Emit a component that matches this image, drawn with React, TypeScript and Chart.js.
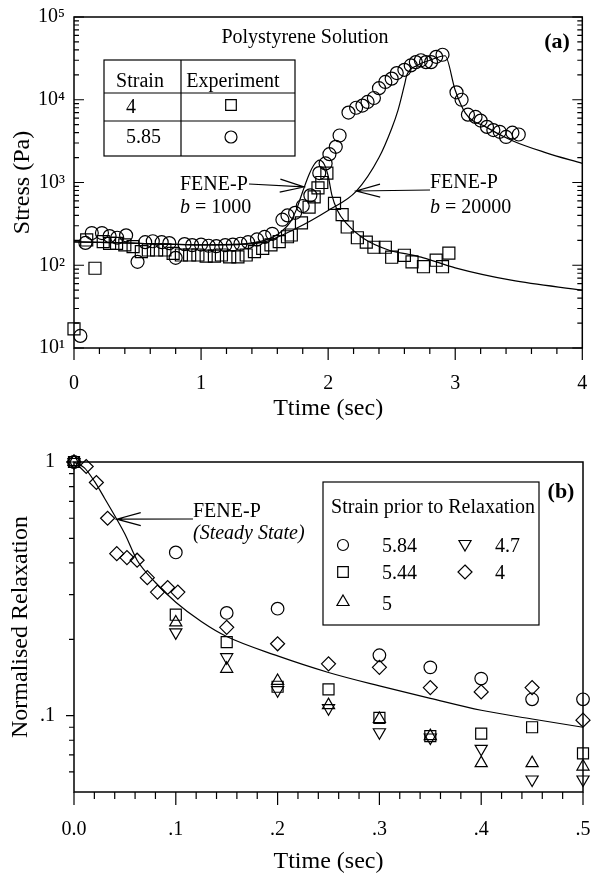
import React, { useEffect, useRef } from 'react';
import { Chart, registerables } from 'chart.js';

Chart.register(...registerables);

const SERIF = '"Liberation Serif", "Times New Roman", serif';

// ---------------- Panel (a): Polystyrene solution, stress vs time ----------------
const A_X_TICKS = [0, 1, 2, 3, 4];
const A_X_LABELS = ['0', '1', '2', '3', '4'];
const A_Y_TICKS = [10, 100, 1000, 10000, 100000];
const A_Y_LABELS = ['10\u00b9', '10\u00b2', '10\u00b3', '10\u2074', '10\u2075'];

// Strain 4 (squares)
const A_SQ_T = [0.0, 0.10, 0.165, 0.23, 0.28, 0.335, 0.40, 0.465, 0.53, 0.585, 0.65, 0.715, 0.78, 0.845, 0.91, 0.975, 1.04, 1.105, 1.16, 1.225, 1.29, 1.355, 1.42, 1.485, 1.55, 1.615, 1.68, 1.71, 1.79, 1.85, 1.89, 1.92, 1.95, 1.99, 2.05, 2.11, 2.15, 2.23, 2.30, 2.36, 2.45, 2.50, 2.60, 2.66, 2.75, 2.85, 2.90, 2.95];
const A_SQ_V = [17, 202, 92, 193, 184, 184, 176, 168, 146, 153, 153, 153, 139, 133, 133, 133, 129, 129, 133, 126, 126, 133, 146, 160, 176, 193, 221, 232, 325, 505, 670, 860, 1000, 1300, 560, 410, 290, 215, 190, 165, 165, 125, 132, 110, 96, 115, 96, 140];

// Strain 5.85 (circles)
const A_CI_T = [0.05, 0.09, 0.14, 0.22, 0.28, 0.34, 0.41, 0.50, 0.56, 0.62, 0.69, 0.75, 0.80, 0.87, 0.93, 1.00, 1.06, 1.12, 1.19, 1.25, 1.31, 1.37, 1.44, 1.50, 1.56, 1.64, 1.68, 1.74, 1.80, 1.86, 1.93, 1.98, 2.01, 2.06, 2.09, 2.16, 2.22, 2.27, 2.31, 2.36, 2.40, 2.45, 2.50, 2.54, 2.60, 2.65, 2.69, 2.73, 2.77, 2.81, 2.85, 2.90, 3.01, 3.05, 3.10, 3.16, 3.20, 3.25, 3.30, 3.35, 3.40, 3.45, 3.50];
const A_CI_V = [14, 186, 245, 245, 225, 215, 230, 110, 190, 195, 190, 185, 123, 180, 175, 178, 172, 170, 175, 178, 182, 190, 205, 220, 240, 355, 400, 430, 520, 700, 1300, 1700, 2200, 2700, 3700, 7000, 8000, 8500, 9400, 10500, 13800, 16400, 18000, 21000, 23000, 26000, 28500, 30000, 28500, 28500, 33000, 35000, 12300, 10000, 6600, 6200, 5600, 4700, 4300, 4100, 3550, 4000, 3800];

// FENE-P, b = 1000
const A_B1000_T = [0, 0.3, 0.6, 1.0, 1.3, 1.5, 1.6, 1.7, 1.75, 1.8, 1.85, 1.89, 1.93, 1.97, 2.0, 2.03, 2.07, 2.14, 2.27, 2.48, 2.64, 2.75, 3.0, 3.44, 4.0];
const A_B1000_V = [192, 188, 182, 176, 180, 200, 235, 330, 470, 780, 1250, 1650, 1860, 1650, 1200, 700, 470, 325, 215, 152, 135, 123, 93, 66, 50];

// FENE-P, b = 20000
const A_B20000_T = [0, 0.3, 0.6, 1.0, 1.3, 1.5, 1.75, 2.0, 2.22, 2.4, 2.5, 2.55, 2.6, 2.62, 2.7, 2.8, 2.92, 3.0, 3.08, 3.24, 3.45, 3.71, 4.0];
const A_B20000_V = [192, 188, 182, 176, 178, 192, 280, 460, 780, 2000, 4500, 7500, 15000, 20000, 26000, 30000, 34000, 13000, 6900, 4700, 3200, 2300, 1700];

// ---------------- Panel (b): normalised relaxation ----------------
const B_X_TICKS = [0, 0.1, 0.2, 0.3, 0.4, 0.5];
const B_X_LABELS = ['0.0', '.1', '.2', '.3', '.4', '.5'];
const B_Y_TICKS = [0.1, 1];
const B_Y_LABELS = ['.1', '1'];

const B_T = [0, 0.1, 0.15, 0.2, 0.25, 0.3, 0.35, 0.4, 0.45, 0.5];
const B_S584 = [1, 0.44, 0.254, 0.264, null, 0.173, 0.155, 0.14, 0.116, 0.116];
const B_S544 = [1, 0.25, 0.195, 0.13, 0.127, 0.098, 0.083, 0.085, 0.09, 0.071];
const B_S5 = [1, 0.233, 0.153, 0.137, 0.11, 0.097, 0.083, 0.065, 0.065, 0.063];
const B_S47 = [1, 0.213, 0.17, 0.126, 0.107, 0.086, 0.082, 0.074, 0.056, 0.056];
const B_S4_T = [0, 0.012, 0.022, 0.033, 0.042, 0.052, 0.062, 0.072, 0.082, 0.092, 0.102, 0.15, 0.2, 0.25, 0.3, 0.35, 0.4, 0.45, 0.5];
const B_S4 = [1, 0.96, 0.83, 0.6, 0.435, 0.42, 0.41, 0.35, 0.307, 0.32, 0.307, 0.223, 0.192, 0.16, 0.155, 0.129, 0.124, 0.129, 0.096];

const B_FENE_T = [0, 0.01, 0.02, 0.03, 0.042, 0.05, 0.062, 0.08, 0.1, 0.125, 0.15, 0.2, 0.25, 0.3, 0.35, 0.4, 0.45, 0.5];
const B_FENE_V = [1, 0.95, 0.84, 0.72, 0.595, 0.52, 0.41, 0.335, 0.28, 0.235, 0.205, 0.172, 0.148, 0.131, 0.117, 0.105, 0.097, 0.09];

// ---------------- helpers ----------------
function pts(xs: number[], ys: (number | null)[]) {
  const out: { x: number; y: number }[] = [];
  xs.forEach((x, i) => {
    const y = ys[i];
    if (y !== null && y !== undefined) out.push({ x, y });
  });
  return out;
}

function labelFrom(ticks: number[], labels: string[]) {
  return (v: any) => {
    const i = ticks.findIndex((t) => Math.abs(t - Number(v)) < 1e-9);
    return i >= 0 ? labels[i] : '';
  };
}

function drawMarker(ctx: CanvasRenderingContext2D, shape: string, x: number, y: number, r: number) {
  ctx.beginPath();
  if (shape === 'circle') {
    ctx.arc(x, y, r, 0, Math.PI * 2);
  } else if (shape === 'square') {
    const s = r * Math.SQRT1_2;
    ctx.rect(x - s, y - s, 2 * s, 2 * s);
  } else if (shape === 'triangle' || shape === 'triangleDown') {
    const g = shape === 'triangle' ? 1 : -1;
    ctx.moveTo(x, y - g * r);
    ctx.lineTo(x + r * 0.866, y + g * r * 0.5);
    ctx.lineTo(x - r * 0.866, y + g * r * 0.5);
    ctx.closePath();
  } else if (shape === 'diamond') {
    ctx.moveTo(x, y - r);
    ctx.lineTo(x + r, y);
    ctx.lineTo(x, y + r);
    ctx.lineTo(x - r, y);
    ctx.closePath();
  }
  ctx.stroke();
}

function drawArrow(ctx: CanvasRenderingContext2D, fx: number, fy: number, tx: number, ty: number) {
  const ang = Math.atan2(ty - fy, tx - fx);
  const len = 24;
  const half = 6.5;
  ctx.beginPath();
  ctx.moveTo(fx, fy);
  ctx.lineTo(tx, ty);
  const bx = tx - Math.cos(ang) * len;
  const by = ty - Math.sin(ang) * len;
  const nx = -Math.sin(ang) * half;
  const ny = Math.cos(ang) * half;
  ctx.moveTo(bx + nx, by + ny);
  ctx.lineTo(tx, ty);
  ctx.lineTo(bx - nx, by - ny);
  ctx.stroke();
}

function drawBEquals(ctx: CanvasRenderingContext2D, x: number, y: number, value: string) {
  ctx.textAlign = 'left';
  ctx.font = `italic 20px ${SERIF}`;
  ctx.fillText('b', x, y);
  const w = ctx.measureText('b').width;
  ctx.font = `20px ${SERIF}`;
  ctx.fillText(' = ' + value, x + w, y);
}

const tickFont = { family: SERIF, size: 20 };
const titleFont = { family: SERIF, size: 24 };

function markerSet(label: string, data: any[], style: string, r: number, rotation = 0) {
  return {
    label,
    data,
    showLine: false,
    pointStyle: style,
    pointRadius: r,
    pointRotation: rotation,
    pointBorderColor: '#000',
    pointBackgroundColor: 'rgba(0,0,0,0)',
    pointBorderWidth: 1.2,
    borderColor: '#000',
    backgroundColor: 'rgba(0,0,0,0)',
    clip: false,
    order: 1,
  };
}

function lineSet(label: string, data: any[]) {
  return {
    label,
    data,
    showLine: true,
    pointRadius: 0,
    borderColor: '#000',
    borderWidth: 1.2,
    cubicInterpolationMode: 'monotone',
    fill: false,
    order: 2,
  };
}

// grid hidden, but its tick length is used as label offset (ticks.padding stays 0)
function hiddenGrid(offset: number) {
  return { display: false, drawTicks: true, tickLength: offset };
}

// ---------------- plugins ----------------
const frameA = {
  id: 'frameA',
  afterDraw(chart: any) {
    const { ctx, chartArea: ca } = chart;
    const xs = chart.scales.x;
    const ys = chart.scales.y;
    ctx.save();
    ctx.strokeStyle = '#000';
    ctx.fillStyle = '#000';
    ctx.lineWidth = 1.5;
    ctx.strokeRect(ca.left, ca.top, ca.right - ca.left, ca.bottom - ca.top);
    ctx.lineWidth = 1.2;
    ctx.beginPath();
    for (let i = 0; i <= 20; i++) {
      const p = xs.getPixelForValue(i * 0.2);
      const len = i % 5 === 0 ? 12 : 6;
      ctx.moveTo(p, ca.bottom);
      ctx.lineTo(p, ca.bottom + len);
    }
    for (let k = 1; k <= 5; k++) {
      for (let m = 1; m <= 9; m++) {
        if (k === 5 && m > 1) break;
        const p = ys.getPixelForValue(m * Math.pow(10, k));
        const len = m === 1 ? 10 : 5;
        ctx.moveTo(ca.left, p);
        ctx.lineTo(ca.left + len, p);
        ctx.moveTo(ca.right, p);
        ctx.lineTo(ca.right - len, p);
      }
    }
    ctx.stroke();

    ctx.textBaseline = 'alphabetic';
    ctx.textAlign = 'center';
    ctx.font = `20px ${SERIF}`;
    ctx.fillText('Polystyrene Solution', 305, 43);
    ctx.font = `bold 22px ${SERIF}`;
    ctx.fillText('(a)', 557, 48);

    // table legend
    ctx.lineWidth = 1.2;
    ctx.strokeRect(104, 60, 191, 96);
    ctx.beginPath();
    ctx.moveTo(104, 93);
    ctx.lineTo(295, 93);
    ctx.moveTo(104, 121);
    ctx.lineTo(295, 121);
    ctx.moveTo(181, 60);
    ctx.lineTo(181, 156);
    ctx.stroke();
    ctx.font = `20px ${SERIF}`;
    ctx.textAlign = 'center';
    ctx.fillText('Strain', 140, 87);
    ctx.fillText('Experiment', 233, 87);
    ctx.textAlign = 'left';
    ctx.fillText('4', 126, 113);
    ctx.fillText('5.85', 126, 143);
    drawMarker(ctx, 'square', 231, 105, 7.5);
    drawMarker(ctx, 'circle', 231, 137, 6);

    // FENE-P annotations
    ctx.textAlign = 'left';
    ctx.font = `20px ${SERIF}`;
    ctx.fillText('FENE-P', 180, 190);
    drawBEquals(ctx, 180, 213, '1000');
    drawArrow(ctx, 249, 184, xs.getPixelForValue(1.81), ys.getPixelForValue(883));

    ctx.font = `20px ${SERIF}`;
    ctx.fillText('FENE-P', 430, 188);
    drawBEquals(ctx, 430, 213, '20000');
    drawArrow(ctx, 430, 190, xs.getPixelForValue(2.22), ys.getPixelForValue(789));
    ctx.restore();
  },
};

const frameB = {
  id: 'frameB',
  afterDraw(chart: any) {
    const { ctx, chartArea: ca } = chart;
    const xs = chart.scales.x;
    const ys = chart.scales.y;
    ctx.save();
    ctx.strokeStyle = '#000';
    ctx.fillStyle = '#000';
    ctx.lineWidth = 1.5;
    ctx.strokeRect(ca.left, ca.top, ca.right - ca.left, ca.bottom - ca.top);
    ctx.lineWidth = 1.2;
    ctx.beginPath();
    for (let i = 0; i <= 25; i++) {
      const p = xs.getPixelForValue(i * 0.02);
      const len = i % 5 === 0 ? 13 : 7;
      ctx.moveTo(p, ca.bottom);
      ctx.lineTo(p, ca.bottom + len);
    }
    const yMinor = [0.06, 0.07, 0.08, 0.09, 0.1, 0.2, 0.3, 0.4, 0.5, 0.6, 0.7, 0.8, 0.9, 1];
    yMinor.forEach((v) => {
      const p = ys.getPixelForValue(v);
      const len = v === 0.1 || v === 1 ? 8 : 5;
      ctx.moveTo(ca.left, p);
      ctx.lineTo(ca.left - len, p);
    });
    ctx.stroke();

    ctx.textBaseline = 'alphabetic';
    ctx.textAlign = 'center';
    ctx.font = `bold 22px ${SERIF}`;
    ctx.fillText('(b)', 561, 68);

    ctx.textAlign = 'left';
    ctx.font = `20px ${SERIF}`;
    ctx.fillText('FENE-P', 193, 87);
    ctx.font = `italic 20px ${SERIF}`;
    ctx.fillText('(Steady State)', 193, 109);
    drawArrow(ctx, 193, 89, xs.getPixelForValue(0.042), ys.getPixelForValue(0.595));

    // legend box
    ctx.strokeRect(323, 52, 216, 143);
    ctx.font = `20px ${SERIF}`;
    ctx.textAlign = 'center';
    ctx.fillText('Strain prior to Relaxation', 433, 83);
    ctx.textAlign = 'left';
    drawMarker(ctx, 'circle', 343, 115, 5.5);
    ctx.fillText('5.84', 382, 122);
    drawMarker(ctx, 'square', 343, 142, 7.5);
    ctx.fillText('5.44', 382, 149);
    drawMarker(ctx, 'triangle', 343, 172, 7);
    ctx.fillText('5', 382, 180);
    drawMarker(ctx, 'triangleDown', 465, 114, 7);
    ctx.fillText('4.7', 495, 122);
    drawMarker(ctx, 'diamond', 465, 142, 7);
    ctx.fillText('4', 495, 149);
    ctx.restore();
  },
};

// ---------------- configs ----------------
function configA(): any {
  return {
    type: 'scatter',
    data: {
      datasets: [
        markerSet('Strain 4', pts(A_SQ_T, A_SQ_V), 'rect', 8.5),
        markerSet('Strain 5.85', pts(A_CI_T, A_CI_V), 'circle', 6.5),
        lineSet('FENE-P b = 1000', pts(A_B1000_T, A_B1000_V)),
        lineSet('FENE-P b = 20000', pts(A_B20000_T, A_B20000_V)),
      ],
    },
    options: {
      responsive: false,
      animation: false,
      events: [],
      layout: { padding: { top: 17, right: 8, left: 0, bottom: 0 } },
      plugins: { legend: { display: false }, tooltip: { enabled: false } },
      scales: {
        x: {
          type: 'linear',
          min: 0,
          max: 4,
          afterBuildTicks: (s: any) => {
            s.ticks = A_X_TICKS.map((v) => ({ value: v }));
          },
          afterFit: (s: any) => {
            s.height = 82;
          },
          grid: hiddenGrid(24),
          border: { display: false },
          ticks: { color: '#000', font: tickFont, padding: 0, autoSkip: false, maxRotation: 0, minRotation: 0, callback: labelFrom(A_X_TICKS, A_X_LABELS) },
          title: { display: true, text: 'Ttime (sec)', color: '#000', font: titleFont, padding: { top: 0, bottom: 7 } },
        },
        y: {
          type: 'logarithmic',
          min: 10,
          max: 100000,
          afterBuildTicks: (s: any) => {
            s.ticks = A_Y_TICKS.map((v) => ({ value: v }));
          },
          afterFit: (s: any) => {
            s.width = 74;
          },
          grid: hiddenGrid(9),
          border: { display: false },
          ticks: { color: '#000', font: tickFont, padding: 0, autoSkip: false, callback: labelFrom(A_Y_TICKS, A_Y_LABELS) },
          title: { display: true, text: 'Stress (Pa)', color: '#000', font: titleFont, padding: { top: 8, bottom: 0 } },
        },
      },
    },
    plugins: [frameA],
  };
}

function configB(): any {
  return {
    type: 'scatter',
    data: {
      datasets: [
        markerSet('5.84', pts(B_T, B_S584), 'circle', 6.3),
        markerSet('5.44', pts(B_T, B_S544), 'rect', 7.8),
        markerSet('5', pts(B_T, B_S5), 'triangle', 7),
        markerSet('4.7', pts(B_T, B_S47), 'triangle', 7, 180),
        markerSet('4', pts(B_S4_T, B_S4), 'rectRot', 7),
        lineSet('FENE-P (Steady State)', pts(B_FENE_T, B_FENE_V)),
      ],
    },
    options: {
      responsive: false,
      animation: false,
      events: [],
      layout: { padding: { top: 32, right: 7, left: 0, bottom: 0 } },
      plugins: { legend: { display: false }, tooltip: { enabled: false } },
      scales: {
        x: {
          type: 'linear',
          min: 0,
          max: 0.5,
          afterBuildTicks: (s: any) => {
            s.ticks = B_X_TICKS.map((v) => ({ value: v }));
          },
          afterFit: (s: any) => {
            s.height = 90;
          },
          grid: hiddenGrid(26),
          border: { display: false },
          ticks: { color: '#000', font: tickFont, padding: 0, autoSkip: false, maxRotation: 0, minRotation: 0, callback: labelFrom(B_X_TICKS, B_X_LABELS) },
          title: { display: true, text: 'Ttime (sec)', color: '#000', font: titleFont, padding: { top: 0, bottom: 6 } },
        },
        y: {
          type: 'logarithmic',
          min: 0.05,
          max: 1,
          afterBuildTicks: (s: any) => {
            s.ticks = B_Y_TICKS.map((v) => ({ value: v }));
          },
          afterFit: (s: any) => {
            s.width = 74;
          },
          grid: hiddenGrid(19),
          border: { display: false },
          ticks: { color: '#000', font: tickFont, padding: 0, autoSkip: false, callback: labelFrom(B_Y_TICKS, B_Y_LABELS) },
          title: { display: true, text: 'Normalised Relaxation', color: '#000', font: titleFont, padding: { top: 6, bottom: 0 } },
        },
      },
    },
    plugins: [frameB],
  };
}

export default function App() {
  const refA = useRef<HTMLCanvasElement>(null);
  const refB = useRef<HTMLCanvasElement>(null);

  useEffect(() => {
    const a = new Chart(refA.current as HTMLCanvasElement, configA());
    const b = new Chart(refB.current as HTMLCanvasElement, configB());
    return () => {
      a.destroy();
      b.destroy();
    };
  }, []);

  return (
    <div style={{ position: 'absolute', left: 0, top: 0, width: 592, height: 882, background: '#fff' }}>
      <canvas ref={refA} width={592} height={430} style={{ position: 'absolute', left: 0, top: 0, width: 592, height: 430 }} />
      <canvas ref={refB} width={592} height={452} style={{ position: 'absolute', left: 0, top: 430, width: 592, height: 452 }} />
    </div>
  );
}
